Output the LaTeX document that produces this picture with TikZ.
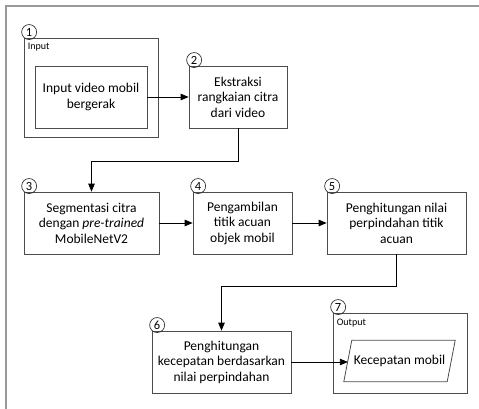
\documentclass[tikz,border=0pt]{standalone}
\usepackage{fontspec}
\setmainfont{Carlito}
\usetikzlibrary{positioning,arrows,calc}
\tikzset{
  proc/.style={draw=black!70, line width=0.8pt, align=center, inner sep=2pt,
    minimum height=62pt, font=\fontsize{13.5}{15.5}\selectfont},
  group/.style={draw=black!70, line width=0.8pt},
  num/.style={circle, draw=black!80, line width=0.7pt, inner sep=0pt,
    minimum size=15pt, anchor=south west, font=\fontsize{12.5}{12.5}\selectfont},
  iolabel/.style={anchor=north west, inner sep=0pt, font=\fontsize{10}{10}\selectfont},
  flow/.style={-triangle 45, line width=0.8pt},
  frame/.style={draw=black!40, line width=1.6pt}
}

\begin{document}
\begin{tikzpicture}[x=1pt,y=-1pt]
  \useasboundingbox (0,0) rectangle (479,409);
  \draw[frame] (6,409) -- (6,6) -- (479,6);
  % input
  \node[group, minimum width=134pt, minimum height=99pt] (input) at (91,87.5) {};
  \node[iolabel] (inputlbl) at ($(input.north west)+(4,5)$) {Input};
  \node[proc, minimum width=112pt] (video) at (91,97) {Input video mobil\\bergerak};
  \node[num] (n1) at (input.north west) {1};
  % process boxes
  \node[proc, minimum width=98pt] (ekstraksi) at (238,97) {Ekstraksi\\rangkaian citra\\dari video};
  \node[num] (n2) at (ekstraksi.north west) {2};
  \node[proc, minimum width=135pt] (segmentasi) at (91.5,223) {Segmentasi citra\\dengan \textit{pre-trained}\\MobileNetV2};
  \node[num] (n3) at (segmentasi.north west) {3};
  \node[proc, minimum width=99pt] (titik) at (242.5,223) {Pengambilan\\titik acuan\\objek mobil};
  \node[num] (n4) at (titik.north west) {4};
  \node[proc, minimum width=139pt] (perpindahan) at (396.5,223) {Penghitungan nilai\\perpindahan titik\\acuan};
  \node[num] (n5) at (perpindahan.north west) {5};
  \node[proc, minimum width=139pt] (kecepatan) at (221.5,362) {Penghitungan\\kecepatan berdasarkan\\nilai perpindahan};
  \node[num] (n6) at (kecepatan.north west) {6};
  % output
  \node[group, minimum width=134pt, minimum height=80pt] (output) at (400,353) {};
  \node[iolabel] (outputlbl) at ($(output.north west)+(4,6)$) {Output};
  \node[num] (n7) at (output.north west) {7};
  \node[minimum width=103pt, minimum height=41pt, inner sep=0pt,
    font=\fontsize{13.5}{15.5}\selectfont] (hasil) at (399.5,361) {Kecepatan mobil};
  \draw[draw=black!70, line width=0.8pt]
    ($(hasil.north west)+(4,0)$) -- ($(hasil.north east)+(4,0)$)
    -- ($(hasil.south east)+(-4,0)$) -- ($(hasil.south west)+(-4,0)$) -- cycle;
  % connectors
  \coordinate (bend1) at ($(ekstraksi.south)+(0,33)$);
  \coordinate (bend2) at ($(perpindahan.south)+(0,32)$);
  \draw[flow] (video.east) -- (ekstraksi.west);
  \draw[flow] (ekstraksi.south) -- (bend1) -| (segmentasi.north);
  \draw[flow] (segmentasi.east) -- (titik.west);
  \draw[flow] (titik.east) -- (perpindahan.west);
  \draw[flow] (perpindahan.south) -- (bend2) -| (kecepatan.north);
  \draw[flow] (kecepatan.east) -- (kecepatan.east -| hasil.west);
\end{tikzpicture}
\end{document}
